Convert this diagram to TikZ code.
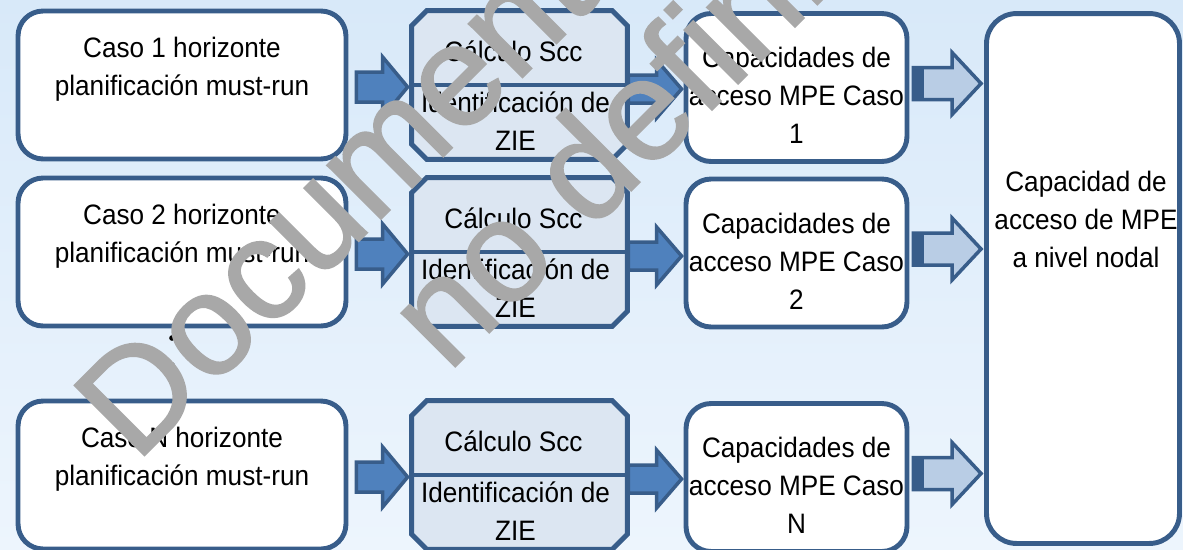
\documentclass[tikz,border=0pt]{standalone}
\usepackage{fontspec}
\setmainfont{Liberation Sans}[FakeStretch=0.93]
\newfontfamily\wmfont{Liberation Sans}[FakeBold=1.2]
\usetikzlibrary{calc}

\definecolor{edgeblue}{HTML}{385D8A}
\definecolor{arrowblue}{HTML}{4F81BD}
\definecolor{arrowlight}{HTML}{B9CDE5}
\definecolor{calcfill}{HTML}{DCE6F2}
\definecolor{bgtop}{HTML}{D8E9F9}
\definecolor{bgbottom}{HTML}{EDF5FD}
\definecolor{wmgray}{HTML}{A8A8A8}

\tikzset{
  txt/.style={font=\fontsize{16}{21.6}\selectfont, text=black, align=center, inner sep=0pt},
  casebox/.style={draw=edgeblue, line width=2.8pt, fill=white, rounded corners=0.5cm,
    minimum width=6.56cm, minimum height=2.96cm, inner sep=0pt},
  calcbox/.style={minimum width=4.3cm, minimum height=2.96cm, inner sep=0pt},
  calcedge/.style={draw=edgeblue, line width=2.8pt, fill=calcfill, line join=miter},
  capbox/.style={casebox, minimum width=4.42cm},
  fwdarrow/.style={draw=edgeblue, line width=2pt, fill=arrowblue, line join=miter},
  sumarrow/.style={draw=edgeblue, line width=2pt, fill=arrowlight, line join=miter},
  dot/.style={circle, fill=black, inner sep=0pt, minimum size=3.2pt},
  wmark/.style={font=\wmfont\fontsize{82}{82}\selectfont, text=wmgray, inner sep=0pt}
}

\begin{document}
\begin{tikzpicture}[x=0.02cm, y=-0.02cm]
\useasboundingbox (0,0) rectangle (1183,549);
\shade[top color=bgtop, bottom color=bgbottom] (0,0) rectangle (1183,549);

\node[capbox, rounded corners=0.6cm, minimum width=3.86cm, minimum height=10.6cm] (d) at (1083,278.5) {};
\node[txt] (dtext) at (1086,219.5) {Capacidad de\\acceso de MPE\\a nivel nodal};

\foreach \i/\ya/\yc/\k in {1/85/87.5/1, 2/252/253/2, 3/475/477.5/N} {
	\node[casebox] (a\i) at (182,\ya) {};
	\node[txt] (at\i) at ($(a\i.center)+(0,-16)$) {Caso \k\ horizonte\\planificación must-run};

	\node[calcbox] (b\i) at (519.5,\ya) {};
	\draw[calcedge] ($(b\i.north west)+(15,0)$) -- ($(b\i.north east)+(-15,0)$) -- ($(b\i.north east)+(0,15)$)
		-- ($(b\i.south east)+(0,-15)$) -- ($(b\i.south east)+(-15,0)$) -- ($(b\i.south west)+(15,0)$)
		-- ($(b\i.south west)+(0,-15)$) -- ($(b\i.north west)+(0,15)$) -- cycle;
	\draw[draw=edgeblue, line width=2.8pt] (b\i.west) -- (b\i.east);
	\node[txt] (bu\i) at ($(b\i.center)!0.5!(b\i.north)+(-6,3)$) {Cálculo Scc};
	\node[txt] (bl\i) at ($(b\i.center)!0.5!(b\i.south)+(-4,-1)$) {Identificación de\\ZIE};

	\node[capbox] (c\i) at (796.5,\yc) {};
	\node[txt] (ct\i) at ($(c\i.center)+(0,8)$) {Capacidades de\\acceso MPE Caso\\\k};

	\coordinate (p) at ($(a\i.east)+(8,2)$);
	\coordinate (q) at ($(b\i.west |- p)+(-4,0)$);
	\draw[fwdarrow] ($(p)+(0,-15)$) -- ($(q)+(-25,-15)$) -- ($(q)+(-25,-30)$) -- (q)
		-- ($(q)+(-25,30)$) -- ($(q)+(-25,15)$) -- ($(p)+(0,15)$) -- cycle;

	\coordinate (p) at ($(b\i.east)+(1,4)$);
	\coordinate (q) at ($(c\i.west |- p)+(-2,0)$);
	\draw[fwdarrow] ($(p)+(0,-14)$) -- ($(q)+(-25,-14)$) -- ($(q)+(-25,-29)$) -- (q)
		-- ($(q)+(-25,29)$) -- ($(q)+(-25,14)$) -- ($(p)+(0,14)$) -- cycle;

	\coordinate (p) at ($(c\i.east)+(4,-4)$);
	\coordinate (q) at ($(d.west |- p)+(-3,0)$);
	\draw[sumarrow] ($(p)+(0,-16)$) -- ($(q)+(-29,-16)$) -- ($(q)+(-29,-31)$) -- (q)
		-- ($(q)+(-29,31)$) -- ($(q)+(-29,16)$) -- ($(p)+(0,16)$) -- cycle;
	\fill[edgeblue] ($(p)+(0,-16)$) rectangle ($(p)+(11,16)$);
}

\node[dot] (dot1) at (172,338) {};
\node[dot] (dot2) at (172,365) {};

\begin{scope}
\clip (0,0) rectangle (1183,549);
\node[wmark, anchor=base west, rotate=45] (wm1) at (136,464) {Documento};
\node[wmark, anchor=base west, rotate=45] (wm2) at (448,374) {no definitivo};
\end{scope}
\end{tikzpicture}
\end{document}
